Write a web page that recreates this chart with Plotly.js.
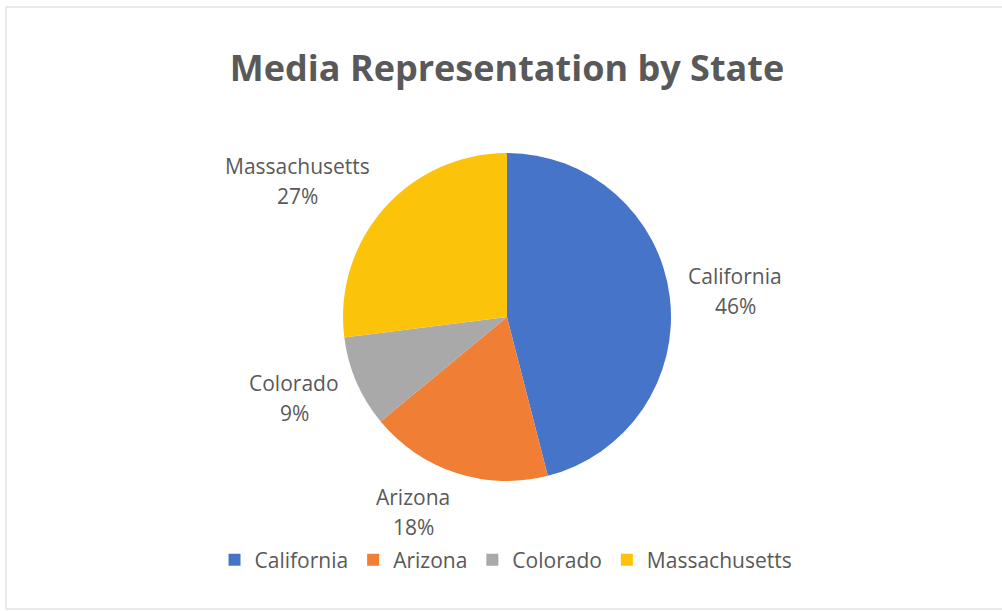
<!DOCTYPE html>
<html>
<head>
<meta charset="utf-8">
<script src="https://cdn.plot.ly/plotly-3.0.1.min.js"></script>
<style>html,body{margin:0;padding:0;background:#fff;}#chart{width:1002px;height:611px;}</style>
</head>
<body>
<div id="chart"></div>
<script>
const states = ["California", "Arizona", "Colorado", "Massachusetts"];
const shares = [46, 18, 9, 27];
const colors = ["#4674c9", "#f07e34", "#a9a9a9", "#fbc30a"];
const chartTitle = "Media Representation by State";

// geometry of the pie (pixels)
const W = 1002, H = 611;
const CX = 507, CY = 317, R = 164;
const GAP = 19, LABEL_H = 44, LINE_STEP = 30;
const FONT = "Open Sans, sans-serif";
const LABEL_SIZE = 21;
const TXT = "#595959";

const trace = {
  type: "pie",
  labels: states,
  values: shares,
  sort: false,
  direction: "clockwise",
  rotation: 0,
  marker: {colors: colors, line: {color: "#ffffff", width: 0}},
  textinfo: "none",
  hoverinfo: "label+percent",
  domain: {x: [(CX - R)/W, (CX + R)/W], y: [1 - (CY + R)/H, 1 - (CY - R)/H]}
};

// text measurement for centering the two label lines
const ctx = document.createElement("canvas").getContext("2d");
ctx.font = LABEL_SIZE + "px 'Open Sans'";
const textW = s => ctx.measureText(s).width;

// outside data labels, placed from the slice mid-angles computed from the values
const total = shares.reduce((a, b) => a + b, 0);
const annotations = [];
let cum = 0;
states.forEach((name, i) => {
  const frac = shares[i] / total;
  const pct = Math.round(frac * 100) + "%";
  const mid = (cum + frac / 2) * 2 * Math.PI;
  cum += frac;
  const dx = Math.sin(mid), dy = Math.cos(mid);
  const boxW = Math.max(textW(name), textW(pct));
  const cx = CX + (R + GAP) * dx + (dx >= 0 ? 1 : -1) * boxW / 2;
  const cy = CY - (R + GAP + LABEL_H / 2) * dy;
  [[name, cy - LINE_STEP / 2], [pct, cy + LINE_STEP / 2]].forEach(([t, y]) => {
    annotations.push({
      xref: "paper", yref: "paper",
      x: cx / W, y: 1 - y / H,
      xanchor: "center", yanchor: "middle",
      showarrow: false, text: t, borderpad: 0,
      font: {family: FONT, size: LABEL_SIZE, color: TXT}
    });
  });
});

const layout = {
  width: W, height: H,
  margin: {l: 0, r: 0, t: 0, b: 0},
  paper_bgcolor: "#ffffff",
  title: {text: "<b>" + chartTitle + "</b>", x: 0.506, xanchor: "center", y: 1 - 68/H, yanchor: "middle",
          font: {family: FONT, size: 36, color: TXT}},
  showlegend: true,
  legend: {orientation: "h", x: 0.505, xanchor: "center", y: 1 - 560/H, yanchor: "middle",
           font: {family: FONT, size: 21, color: TXT}, itemwidth: 30},
  annotations: annotations,
  shapes: [{type: "rect", xref: "paper", yref: "paper", x0: 6/W, x1: 1.01, y0: 1 - 609/H, y1: 1 - 7/H,
            line: {color: "#d4d4d4", width: 1}, fillcolor: "rgba(0,0,0,0)"}]
};

Plotly.newPlot("chart", [trace], layout, {displayModeBar: false, staticPlot: true});
</script>
</body>
</html>
